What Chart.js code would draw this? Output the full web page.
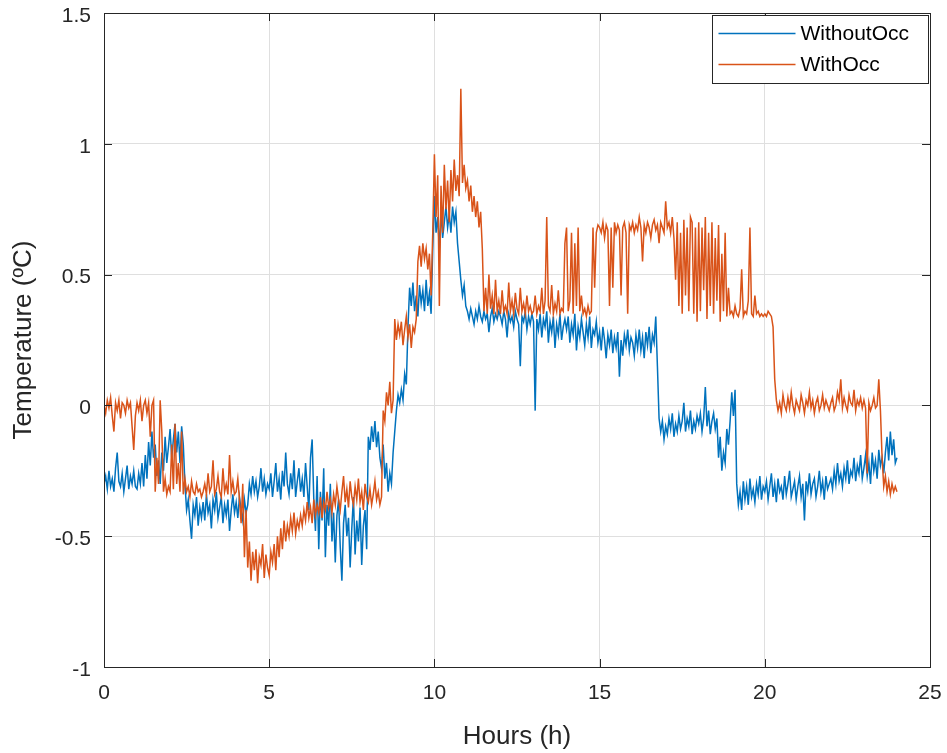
<!DOCTYPE html>
<html>
<head>
<meta charset="utf-8">
<script src="https://cdn.jsdelivr.net/npm/chart.js@4/dist/chart.umd.min.js"></script>
<style>
body { margin: 0; background: #fff; }
</style>
</head>
<body>
<canvas id="tempCanvas" width="947" height="753"></canvas>
<script>
// sampled every 0.05 h, from 0 h to 24 h (one row = one hour)
var step = 0.05;

var withoutOcc = [
    -0.30,-0.27,-0.32,-0.25,-0.31,-0.28,-0.33,-0.24,-0.18,-0.29,-0.31,-0.26,-0.33,-0.28,-0.23,-0.32,-0.27,-0.30,-0.25,-0.31,
    -0.32,-0.26,-0.30,-0.22,-0.31,-0.19,-0.28,-0.14,-0.23,-0.10,-0.20,-0.15,-0.27,-0.21,-0.30,-0.18,-0.25,-0.12,-0.22,-0.16,
    -0.09,-0.20,-0.13,-0.07,-0.18,-0.10,-0.22,-0.08,-0.15,-0.30,-0.40,-0.36,-0.44,-0.51,-0.38,-0.42,-0.35,-0.46,-0.39,-0.43,
    -0.37,-0.44,-0.34,-0.41,-0.38,-0.47,-0.36,-0.40,-0.33,-0.43,-0.39,-0.35,-0.45,-0.38,-0.42,-0.36,-0.48,-0.40,-0.34,-0.41,
    -0.37,-0.43,-0.35,-0.40,-0.44,-0.36,-0.41,-0.38,-0.30,-0.34,-0.27,-0.33,-0.29,-0.35,-0.31,-0.24,-0.33,-0.28,-0.34,-0.30,
    -0.32,-0.26,-0.35,-0.29,-0.22,-0.33,-0.28,-0.36,-0.25,-0.31,-0.18,-0.30,-0.34,-0.26,-0.32,-0.21,-0.35,-0.29,-0.24,-0.33,
    -0.28,-0.35,-0.22,-0.31,-0.40,-0.20,-0.13,-0.36,-0.48,-0.27,-0.55,-0.33,-0.44,-0.24,-0.58,-0.38,-0.46,-0.30,-0.52,-0.41,
    -0.60,-0.42,-0.36,-0.54,-0.67,-0.45,-0.38,-0.50,-0.43,-0.62,-0.47,-0.35,-0.57,-0.44,-0.52,-0.39,-0.61,-0.46,-0.40,-0.55,
    -0.12,-0.17,-0.08,-0.14,-0.06,-0.16,-0.10,-0.20,-0.24,-0.15,-0.28,-0.22,-0.33,-0.26,-0.30,-0.18,-0.10,-0.02,0.04,0.01,
    0.06,0.02,0.12,0.08,0.30,0.45,0.38,0.47,0.36,0.42,0.34,0.46,0.39,0.44,0.36,0.48,0.38,0.43,0.35,0.60,
    0.80,0.66,0.72,0.60,0.74,0.64,0.70,0.76,0.68,0.73,0.66,0.76,0.70,0.74,0.62,0.55,0.48,0.42,0.46,0.38,
    0.36,0.33,0.37,0.34,0.31,0.36,0.33,0.38,0.34,0.32,0.36,0.33,0.35,0.28,0.34,0.37,0.32,0.35,0.33,0.36,
    0.34,0.31,0.36,0.33,0.26,0.35,0.32,0.34,0.30,0.36,0.33,0.31,0.15,0.34,0.32,0.36,0.29,0.34,0.31,0.35,
    0.32,-0.02,0.33,0.29,0.35,0.26,0.33,0.30,0.36,0.24,0.32,0.28,0.34,0.22,0.31,0.27,0.35,0.25,0.30,0.33,
    0.29,0.34,0.24,0.31,0.27,0.35,0.21,0.30,0.26,0.33,0.28,0.23,0.31,0.26,0.34,0.22,0.29,0.27,0.32,0.24,
    0.28,0.21,0.30,0.25,0.18,0.27,0.23,0.29,0.20,0.26,0.22,0.28,0.11,0.25,0.19,0.27,0.23,0.29,0.21,0.26,
    0.24,0.19,0.27,0.22,0.29,0.21,0.26,0.18,0.28,0.23,0.30,0.20,0.27,0.24,0.34,0.15,-0.05,-0.10,-0.06,-0.13,
    -0.08,-0.11,-0.05,-0.09,-0.03,-0.12,-0.07,-0.10,-0.04,-0.09,-0.06,0.01,-0.10,-0.05,-0.08,-0.02,-0.11,-0.06,-0.09,-0.04,
    -0.07,-0.03,-0.10,-0.05,0.07,-0.08,-0.02,-0.11,-0.06,-0.03,-0.09,-0.05,-0.20,-0.12,-0.25,-0.18,-0.22,-0.09,-0.15,-0.06,
    0.05,-0.04,0.06,-0.30,-0.38,-0.33,-0.40,-0.29,-0.36,-0.31,-0.38,-0.28,-0.35,-0.32,-0.37,-0.30,-0.34,-0.27,-0.36,-0.31,
    -0.33,-0.29,-0.36,-0.31,-0.26,-0.35,-0.30,-0.37,-0.28,-0.33,-0.31,-0.36,-0.27,-0.34,-0.30,-0.25,-0.35,-0.32,-0.29,-0.36,
    -0.31,-0.27,-0.35,-0.30,-0.44,-0.29,-0.33,-0.26,-0.34,-0.30,-0.28,-0.35,-0.31,-0.25,-0.33,-0.29,-0.36,-0.27,-0.32,-0.30,
    -0.28,-0.32,-0.25,-0.30,-0.22,-0.29,-0.26,-0.31,-0.24,-0.28,-0.21,-0.30,-0.25,-0.27,-0.20,-0.29,-0.23,-0.26,-0.19,-0.28,
    -0.24,-0.19,-0.27,-0.22,-0.30,-0.18,-0.25,-0.21,-0.28,-0.17,-0.23,-0.20,-0.26,-0.18,-0.12,-0.21,-0.10,-0.19,-0.13,-0.22,
    -0.20
];

var withOcc = [
    0.00,-0.03,0.02,-0.01,0.03,-0.04,-0.10,0.01,-0.02,0.02,-0.05,0.01,0.00,-0.03,0.02,-0.01,0.01,-0.08,-0.17,-0.04,
    0.01,-0.02,0.02,-0.06,0.00,0.02,-0.03,0.01,-0.12,0.00,0.02,-0.33,-0.20,-0.30,0.02,-0.10,-0.33,-0.28,-0.34,-0.31,
    -0.33,-0.15,-0.32,-0.07,-0.30,-0.22,-0.33,-0.10,-0.34,-0.28,-0.33,-0.31,-0.35,-0.29,-0.33,-0.34,-0.30,-0.33,-0.32,-0.35,
    -0.33,-0.30,-0.34,-0.26,-0.33,-0.31,-0.21,-0.34,-0.32,-0.27,-0.33,-0.35,-0.24,-0.33,-0.30,-0.34,-0.19,-0.33,-0.29,-0.34,
    -0.33,-0.28,-0.36,-0.45,-0.30,-0.58,-0.40,-0.62,-0.52,-0.67,-0.56,-0.63,-0.55,-0.68,-0.58,-0.61,-0.53,-0.66,-0.57,-0.62,
    -0.65,-0.56,-0.60,-0.53,-0.63,-0.50,-0.58,-0.47,-0.55,-0.44,-0.52,-0.46,-0.50,-0.43,-0.48,-0.41,-0.49,-0.44,-0.47,-0.42,
    -0.46,-0.40,-0.44,-0.37,-0.43,-0.39,-0.45,-0.36,-0.42,-0.38,-0.41,-0.35,-0.43,-0.37,-0.40,-0.33,-0.39,-0.36,-0.41,-0.34,
    -0.38,-0.31,-0.36,-0.40,-0.33,-0.27,-0.37,-0.32,-0.39,-0.29,-0.35,-0.38,-0.31,-0.36,-0.28,-0.37,-0.33,-0.40,-0.30,-0.35,
    -0.37,-0.32,-0.38,-0.34,-0.29,-0.36,-0.33,-0.38,-0.35,-0.02,-0.06,0.05,0.00,0.09,-0.03,0.02,0.33,0.25,0.31,0.27,
    0.32,0.23,0.29,0.34,0.26,0.31,0.22,0.30,0.28,0.33,0.55,0.61,0.53,0.62,0.56,0.60,0.52,0.58,0.42,0.66,
    0.96,0.72,0.88,0.38,0.84,0.66,0.92,0.75,0.86,0.70,0.90,0.78,0.94,0.82,0.88,0.80,1.21,0.85,0.92,0.83,
    0.86,0.78,0.84,0.74,0.80,0.72,0.78,0.68,0.74,0.60,0.36,0.45,0.35,0.50,0.37,0.42,0.35,0.48,0.36,0.40,
    0.35,0.44,0.36,0.38,0.35,0.47,0.36,0.40,0.35,0.43,0.37,0.35,0.45,0.36,0.39,0.35,0.42,0.36,0.38,0.35,
    0.36,0.42,0.35,0.38,0.36,0.45,0.35,0.40,0.72,0.38,0.36,0.46,0.35,0.39,0.36,0.44,0.35,0.37,0.36,0.62,
    0.68,0.36,0.40,0.66,0.35,0.62,0.38,0.68,0.36,0.42,0.35,0.37,0.34,0.38,0.35,0.36,0.68,0.45,0.66,0.69,
    0.68,0.66,0.70,0.64,0.69,0.67,0.38,0.68,0.45,0.70,0.66,0.69,0.67,0.42,0.68,0.70,0.66,0.35,0.69,0.67,
    0.70,0.66,0.69,0.67,0.72,0.68,0.55,0.69,0.66,0.70,0.68,0.64,0.69,0.71,0.67,0.69,0.62,0.70,0.68,0.66,
    0.78,0.68,0.70,0.66,0.72,0.64,0.48,0.70,0.38,0.66,0.35,0.71,0.42,0.68,0.36,0.72,0.70,0.35,0.68,0.32,
    0.70,0.36,0.68,0.44,0.72,0.33,0.66,0.38,0.70,0.35,0.64,0.40,0.69,0.32,0.58,0.36,0.66,0.34,0.45,0.35,
    0.36,0.34,0.38,0.35,0.34,0.37,0.52,0.34,0.36,0.35,0.40,0.68,0.35,0.34,0.42,0.35,0.36,0.34,0.35,0.34,
    0.35,0.34,0.36,0.35,0.34,0.30,0.10,0.02,-0.02,0.01,-0.03,0.04,0.00,-0.02,0.03,-0.01,0.05,0.00,-0.03,0.02,
    0.00,-0.02,0.04,0.01,-0.03,0.02,0.00,0.05,-0.01,0.02,-0.03,0.01,0.03,-0.02,0.00,0.04,-0.01,0.02,0.00,-0.02,
    0.01,0.03,-0.02,0.00,0.05,0.02,0.10,-0.01,0.03,0.00,-0.02,0.04,0.01,0.00,0.06,-0.02,0.02,0.00,0.03,-0.01,
    0.02,-0.01,-0.26,0.01,-0.02,0.00,0.03,-0.01,0.00,0.10,-0.02,-0.20,-0.31,-0.27,-0.33,-0.29,-0.34,-0.30,-0.33,-0.31,
    -0.33
];

var xTicks = [0, 5, 10, 15, 20, 25];
var yTicks = [-1, -0.5, 0, 0.5, 1, 1.5];
var seriesNames = ['WithoutOcc', 'WithOcc'];

var fontFamily = '"Liberation Sans", Arial, Helvetica, sans-serif';
var inkColor = '#262626';

function toPoints(values) {
    var pts = [];
    for (var i = 0; i < values.length; i++) {
        pts.push({ x: Math.round(i * step * 100) / 100, y: values[i] });
    }
    return pts;
}

// matlab style box, inward ticks and legend
var matlabAxes = {
    id: 'matlabAxes',
    afterDatasetsDraw: function (chart) {
        var ctx = chart.ctx;
        var a = chart.chartArea;
        var sx = chart.scales.x, sy = chart.scales.y;
        var tl = 8;
        ctx.save();
        ctx.strokeStyle = inkColor;
        ctx.lineWidth = 1;
        ctx.beginPath();
        xTicks.forEach(function (v) {
            var px = Math.round(sx.getPixelForValue(v)) + 0.5;
            ctx.moveTo(px, a.bottom); ctx.lineTo(px, a.bottom - tl);
            ctx.moveTo(px, a.top); ctx.lineTo(px, a.top + tl);
        });
        yTicks.forEach(function (v) {
            var py = Math.round(sy.getPixelForValue(v)) + 0.5;
            ctx.moveTo(a.left, py); ctx.lineTo(a.left + tl, py);
            ctx.moveTo(a.right, py); ctx.lineTo(a.right - tl, py);
        });
        ctx.stroke();
        ctx.strokeRect(Math.round(a.left) + 0.5, Math.round(a.top) + 0.5,
            Math.round(a.right - a.left), Math.round(a.bottom - a.top));

        // legend box, top right inside the axes
        var lw = 216, lh = 68;
        var lx = Math.round(a.right) - lw - 2 + 0.5, ly = Math.round(a.top) + 2 + 0.5;
        ctx.fillStyle = '#fff';
        ctx.fillRect(lx, ly, lw, lh);
        ctx.strokeRect(lx, ly, lw, lh);
        ctx.font = '21px ' + fontFamily;
        ctx.textBaseline = 'middle';
        ctx.textAlign = 'left';
        chart.data.datasets.forEach(function (ds, i) {
            var rowY = ly + 18 + i * 31;
            ctx.strokeStyle = ds.borderColor;
            ctx.lineWidth = 1.5;
            ctx.beginPath();
            ctx.moveTo(lx + 6, rowY); ctx.lineTo(lx + 83, rowY);
            ctx.stroke();
            ctx.fillStyle = '#000';
            ctx.fillText(seriesNames[i], lx + 88, rowY + 1);
        });
        ctx.restore();
    }
};

var chartdata = {
    datasets: [
        {
            label: seriesNames[0],
            borderColor: '#0072BD',
            data: toPoints(withoutOcc),
            order: 1
        },
        {
            label: seriesNames[1],
            borderColor: '#D95319',
            data: toPoints(withOcc),
            order: 0
        }
    ]
};

var tempChart = new Chart(document.getElementById('tempCanvas'), {
    type: 'line',
    data: chartdata,
    plugins: [matlabAxes],
    options: {
        responsive: false,
        animation: false,
        layout: { padding: { top: 13, right: 17, left: 0, bottom: 0 } },
        elements: {
            point: { radius: 0 },
            line: { borderWidth: 1.5, tension: 0 }
        },
        plugins: {
            legend: { display: false },
            tooltip: { enabled: false }
        },
        scales: {
            x: {
                type: 'linear',
                min: 0,
                max: 25,
                afterBuildTicks: function (s) { s.ticks = xTicks.map(function (v) { return { value: v }; }); },
                afterFit: function (s) { s.height = 86; s.paddingLeft = 0; s.paddingRight = 0; },
                grid: { color: '#dfdfdf', drawTicks: false },
                border: { display: false },
                ticks: { color: inkColor, padding: 14, maxRotation: 0, font: { family: fontFamily, size: 21 },
                    callback: function (v) { return String(v); } },
                title: {
                    display: true,
                    text: 'Hours (h)',
                    color: inkColor,
                    font: { family: fontFamily, size: 26 },
                    padding: { top: 0, bottom: 1 }
                }
            },
            y: {
                type: 'linear',
                min: -1,
                max: 1.5,
                afterBuildTicks: function (s) { s.ticks = yTicks.map(function (v) { return { value: v }; }); },
                afterFit: function (s) { s.width = 104; s.paddingTop = 0; s.paddingBottom = 0; },
                grid: { color: '#dfdfdf', drawTicks: false },
                border: { display: false },
                ticks: { color: inkColor, padding: 13, labelOffset: 3, font: { family: fontFamily, size: 21 },
                    callback: function (v) { return String(v); } },
                title: {
                    display: true,
                    text: 'Temperature (ºC)',
                    color: inkColor,
                    font: { family: fontFamily, size: 26 },
                    padding: { top: 8, bottom: 0 }
                }
            }
        }
    }
});
</script>
</body>
</html>
